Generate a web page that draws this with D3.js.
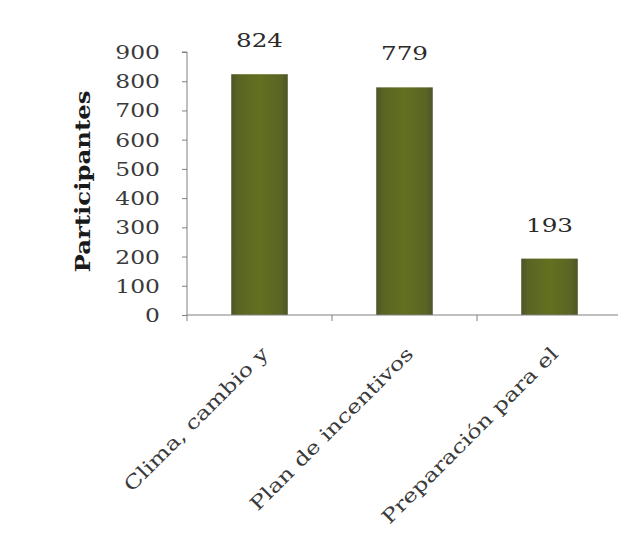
<!DOCTYPE html>
<html><head><meta charset="utf-8">
<script src="https://cdn.jsdelivr.net/npm/d3@7"></script>
<style>body{margin:0;background:#fff;} svg{display:block;}</style>
</head><body>
<script>
const categories = ["Clima, cambio y", "Plan de incentivos", "Preparación para el"];
const values = [824, 779, 193];
const yTicks = [0,100,200,300,400,500,600,700,800,900];
const yTitle = "Participantes";

const W = 618, H = 552;
const svg = d3.select("body").append("svg").attr("width", W).attr("height", H);
svg.append("rect").attr("width", W).attr("height", H).attr("fill", "#fff");

const x0 = 187, x1 = 622, yTop = 52, yBot = 315;
const x = d3.scaleBand().domain(categories).range([x0, x1]).paddingInner(0.61).paddingOuter(0.305);
const y = d3.scaleLinear().domain([0, 900]).range([yBot, yTop]);

const defs = svg.append("defs");
const g = defs.append("linearGradient").attr("id", "bg").attr("x1", 0).attr("x2", 1).attr("y1", 0).attr("y2", 0);
g.append("stop").attr("offset", 0).attr("stop-color", "#4d5527");
g.append("stop").attr("offset", 0.12).attr("stop-color", "#5a6424");
g.append("stop").attr("offset", 0.5).attr("stop-color", "#63701f");
g.append("stop").attr("offset", 0.88).attr("stop-color", "#5a6424");
g.append("stop").attr("offset", 1).attr("stop-color", "#4d5527");

// bars
svg.selectAll("rect.bar").data(values).join("rect").attr("class", "bar")
  .attr("x", (d, i) => x(categories[i]))
  .attr("width", x.bandwidth())
  .attr("y", d => y(d))
  .attr("height", d => y(0) - y(d))
  .attr("fill", "url(#bg)");

// y axis
const yAxis = d3.axisLeft(y).tickValues(yTicks).tickSize(5).tickPadding(0);
const ya = svg.append("g").attr("transform", `translate(${x0},0)`).call(yAxis);
ya.select(".domain").attr("stroke", "#808080").attr("d", `M-5,${yTop}H0V${yBot}`);
ya.selectAll(".tick line").attr("stroke", "#808080");
ya.selectAll(".tick text").attr("font-family", "DejaVu Serif").attr("font-size", 18).attr("fill", "#3a3a3a")
  .attr("x", 0).attr("dy", "0.36em")
  .attr("transform", "translate(-27,0) scale(1.3,1)");

// x axis
const xa = svg.append("g").attr("transform", `translate(0,${yBot})`);
xa.append("line").attr("x1", x0).attr("x2", x1).attr("y1", 0).attr("y2", 0).attr("stroke", "#808080");
const step = x.step();
const bounds = categories.map((c, i) => x0 + i * step);
xa.selectAll("line.tk").data(bounds).join("line").attr("class", "tk")
  .attr("x1", d => d).attr("x2", d => d).attr("y1", 0).attr("y2", 6).attr("stroke", "#808080");

// x labels
svg.selectAll("text.xl").data(categories).join("text").attr("class", "xl")
  .attr("transform", d => `translate(${x(d) + x.bandwidth() / 2 + 10},${yBot + 40}) rotate(-45) scale(1.26,1)`)
  .attr("text-anchor", "end")
  .attr("font-family", "DejaVu Serif").attr("font-size", 19).attr("fill", "#3a3a3a")
  .text(d => d);

// value labels
svg.selectAll("text.vl").data(values).join("text").attr("class", "vl")
  .attr("transform", (d, i) => `translate(${x(categories[i]) + x.bandwidth() / 2},${y(d) - 27}) scale(1.3,1)`)
  .attr("text-anchor", "middle")
  .attr("font-family", "DejaVu Serif").attr("font-size", 19).attr("fill", "#2a2a2a")
  .text(d => d);

// y title
svg.append("text").attr("transform", `translate(90,${(yTop + yBot) / 2 - 2}) rotate(-90) scale(1.22,1)`)
  .attr("text-anchor", "middle").attr("font-family", "DejaVu Serif").attr("font-weight", "bold")
  .attr("font-size", 20).attr("fill", "#1a1a1a").text(yTitle);
</script>
</body></html>
